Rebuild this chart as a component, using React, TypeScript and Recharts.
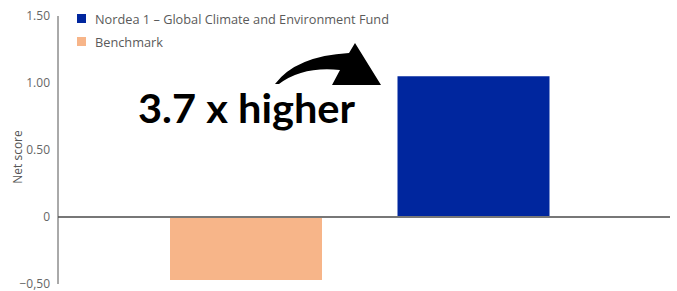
import React from 'react'
import { BarChart, Bar, XAxis, YAxis, Legend, ReferenceLine, Customized } from 'recharts'

const categories = ['Benchmark', 'Nordea 1 – Global Climate and Environment Fund']
const fundValues = [null, 1.05]
const benchmarkValues = [-0.47, null]
const yTicks = [-0.5, 0, 0.5, 1, 1.5]

const FUND_COLOR = '#00269e'
const BENCH_COLOR = '#f7b589'
const FONT = '"Open Sans", sans-serif'

const data = categories.map((name, i) => ({
  name,
  fund: fundValues[i],
  benchmark: benchmarkValues[i],
}))

const fmtTick = (v: number) => {
  if (v === 0) return '0'
  if (v < 0) return '\u2212' + Math.abs(v).toFixed(2).replace('.', ',')
  return v.toFixed(2)
}

const legendItems = [
  { label: 'Nordea 1 \u2013 Global Climate and Environment Fund', color: FUND_COLOR },
  { label: 'Benchmark', color: BENCH_COLOR },
]

function LegendBox() {
  return (
    <div style={{ fontFamily: FONT, fontSize: 12.75, color: '#5a5a5a' }}>
      {legendItems.map((it) => (
        <div key={it.label} style={{ display: 'flex', alignItems: 'center', height: 23 }}>
          <span style={{ width: 9, height: 9, background: it.color, display: 'inline-block', marginRight: 9 }} />
          <span>{it.label}</span>
        </div>
      ))}
    </div>
  )
}

function Annotations() {
  return (
    <g>
      <text
        x={17}
        y={157}
        transform="rotate(-90 17 157)"
        textAnchor="middle"
        dominantBaseline="central"
        fontFamily={FONT}
        fontSize={12}
        fill="#555"
      >
        Net score
      </text>
      <text
        x={138}
        y={123}
        fontFamily="Lato, sans-serif"
        fontWeight={700}
        fontSize={41}
        fill="#000"
        textLength={217}
        lengthAdjust="spacingAndGlyphs"
      >
        3.7 x higher
      </text>
      <path
        d="M275,84 Q296,56 349,53 L355,43 L381,85 L332,85 L340,70 Q303,66 279,84 Z"
        fill="#000"
      />
    </g>
  )
}

export default function App() {
  return (
    <div style={{ position: 'absolute', left: 0, top: 0, background: '#fff' }}>
      <BarChart
        width={677}
        height={291}
        data={data}
        margin={{ top: 16, right: 7, bottom: 7, left: 0 }}
        barCategoryGap={38}
      >
        <XAxis dataKey="name" hide padding={{ left: 74, right: 83 }} />
        <YAxis
          width={58}
          domain={[-0.5, 1.5]}
          ticks={yTicks}
          tickFormatter={fmtTick}
          tickLine={false}
          axisLine={{ stroke: '#555', strokeWidth: 1 }}
          tick={{ fill: '#666', fontSize: 12, fontFamily: FONT }}
          interval={0}
        />
        <ReferenceLine y={0} stroke="#777" strokeWidth={2} />
        <Legend
          layout="vertical"
          align="center"
          verticalAlign="middle"
          content={() => <LegendBox />}
          wrapperStyle={{ position: 'absolute', left: 77, top: 7, width: 420 }}
        />
        <Bar dataKey="fund" stackId="a" fill={FUND_COLOR} isAnimationActive={false} />
        <Bar dataKey="benchmark" stackId="a" fill={BENCH_COLOR} isAnimationActive={false} />
        <Customized component={Annotations} />
      </BarChart>
    </div>
  )
}
